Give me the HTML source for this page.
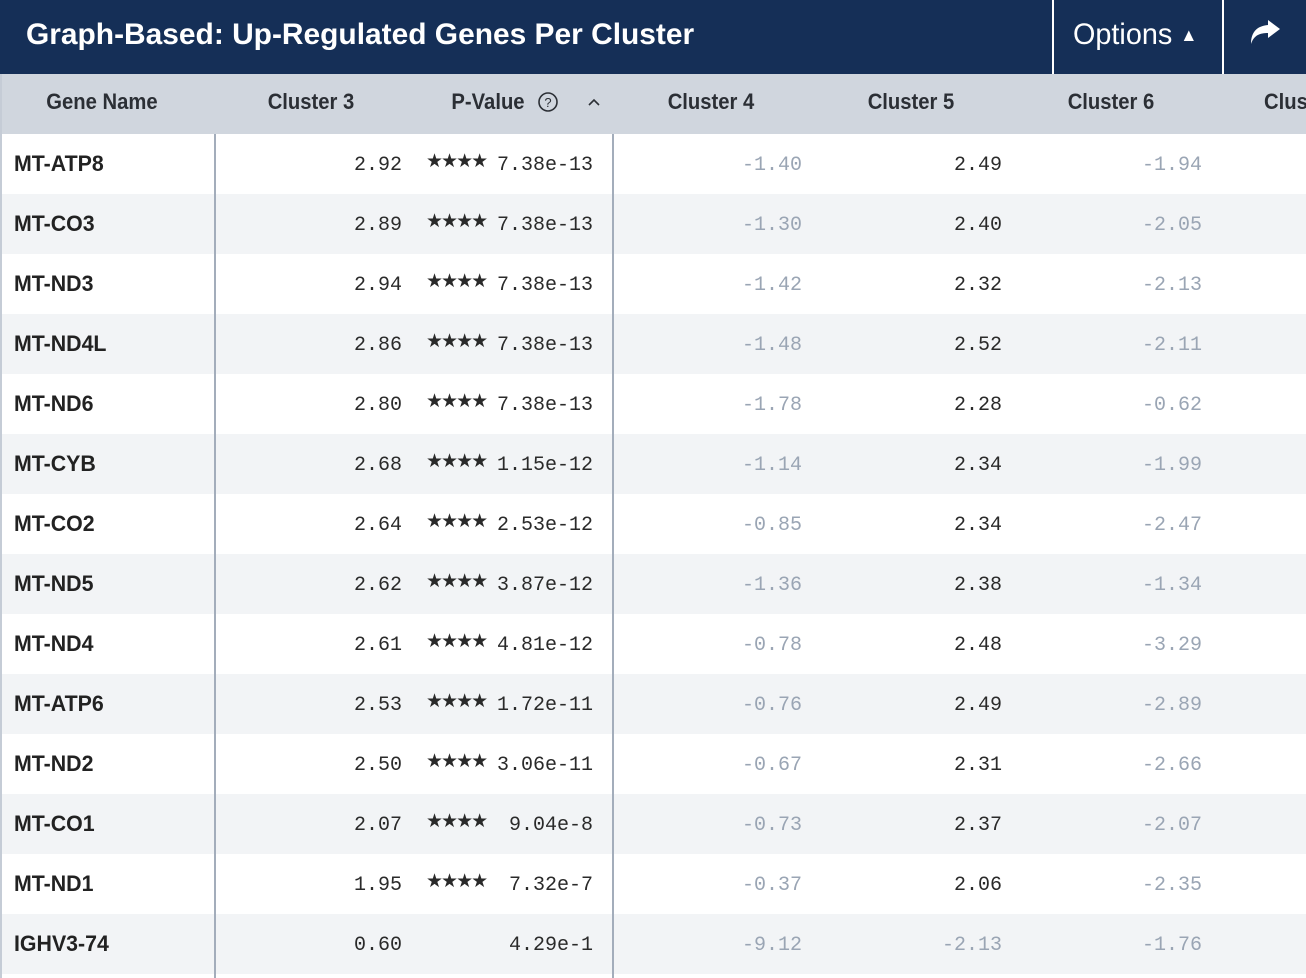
<!DOCTYPE html>
<html><head><meta charset="utf-8"><style>
*{margin:0;padding:0;box-sizing:border-box}
body{width:1306px;height:978px;background:#fff;position:relative;overflow:hidden;font-family:"Liberation Sans",sans-serif}
.top{position:absolute;left:0;top:0;width:1306px;height:74px;background:#152f57}
.title{position:absolute;left:26px;top:18px;color:#fff;font-weight:bold;font-size:30px;transform:scaleX(0.997);transform-origin:left}
.sep{position:absolute;top:0;width:2px;height:74px;background:#fff}
.opt{position:absolute;left:1073px;top:18px;color:#fff;font-size:30px;transform:scaleX(0.96);transform-origin:left}
.hdr{position:absolute;left:0;top:74px;width:1306px;height:60px;background:#d0d6de}
.h{position:absolute;top:89px;font-weight:bold;font-size:22px;color:#2b2f35;transform:translateX(-50%) scaleX(0.92);white-space:nowrap}
.row{position:absolute;left:0;width:1306px;height:60px}
.g{position:absolute;left:14px;top:17px;font-weight:bold;font-size:22px;color:#222;transform:scaleX(0.97);transform-origin:left}
.n{position:absolute;top:20px;font-family:"Liberation Mono",monospace;font-size:20px;color:#2a2a2a;text-align:right}
.m{color:#9aa5b4}
.s{position:absolute;left:426px;top:16px;font-size:19px;color:#2a2a2a;letter-spacing:-2px;font-family:"DejaVu Sans",sans-serif}
.vl{position:absolute;top:134px;width:2px;height:844px;background:#a3adbb}
</style></head><body>
<div class="top"></div>
<div class="title">Graph-Based: Up-Regulated Genes Per Cluster</div>
<div class="sep" style="left:1052px"></div>
<div class="sep" style="left:1222px"></div>
<div class="opt">Options <span style="font-size:18px;position:relative;top:-3px">▲</span></div>
<svg style="position:absolute;left:1248px;top:18px" width="34" height="30" viewBox="0 0 34 30"><path d="M20 2 L32 11 L20 20 L20 15 C12 15 6 17 3 26 C3 14 9 8 20 7 Z" fill="#fff"/></svg>
<div class="hdr"></div>
<div class="h" style="left:102px">Gene Name</div>
<div class="h" style="left:311px">Cluster 3</div>
<div class="h" style="left:488px">P-Value</div>
<svg style="position:absolute;left:537px;top:91px" width="22" height="22" viewBox="0 0 22 22"><circle cx="11" cy="11" r="9" fill="none" stroke="#2b2f35" stroke-width="1.6"/><text x="11" y="16" text-anchor="middle" font-family="Liberation Sans" font-size="13" fill="#2b2f35">?</text></svg>
<svg style="position:absolute;left:587px;top:97px" width="14" height="10" viewBox="0 0 14 10"><path d="M2 8 L7 3 L12 8" fill="none" stroke="#2b2f35" stroke-width="1.6"/></svg>
<div class="h" style="left:711px">Cluster 4</div>
<div class="h" style="left:911px">Cluster 5</div>
<div class="h" style="left:1111px">Cluster 6</div>
<div class="h" style="left:1264px;transform:scaleX(0.92);transform-origin:left">Clus</div>
<div id="rows"></div>
<div class="vl" style="left:214px"></div>
<div class="vl" style="left:612px"></div>
<div style="position:absolute;left:0;top:74px;width:2px;height:904px;background:#c5ccd6"></div>
<script>
var d=[["MT-ATP8","2.92","7.38e-13","-1.40","2.49","-1.94"],["MT-CO3","2.89","7.38e-13","-1.30","2.40","-2.05"],["MT-ND3","2.94","7.38e-13","-1.42","2.32","-2.13"],["MT-ND4L","2.86","7.38e-13","-1.48","2.52","-2.11"],["MT-ND6","2.80","7.38e-13","-1.78","2.28","-0.62"],["MT-CYB","2.68","1.15e-12","-1.14","2.34","-1.99"],["MT-CO2","2.64","2.53e-12","-0.85","2.34","-2.47"],["MT-ND5","2.62","3.87e-12","-1.36","2.38","-1.34"],["MT-ND4","2.61","4.81e-12","-0.78","2.48","-3.29"],["MT-ATP6","2.53","1.72e-11","-0.76","2.49","-2.89"],["MT-ND2","2.50","3.06e-11","-0.67","2.31","-2.66"],["MT-CO1","2.07","9.04e-8","-0.73","2.37","-2.07"],["MT-ND1","1.95","7.32e-7","-0.37","2.06","-2.35"],["IGHV3-74","0.60","4.29e-1","-9.12","-2.13","-1.76"]];
var h="";
function n(v,r){return '<div class="n'+(v[0]=="-"?" m":"")+'" style="right:'+(1306-r)+'px">'+v+'</div>';}
d.forEach(function(r,i){
h+='<div class="row" style="top:'+(134+60*i)+'px;background:'+(i%2?'#f2f4f6':'#fff')+'"><div class="g">'+r[0]+'</div>'+n(r[1],402)+(i<13?'<div class="s">★★★★</div>':'')+n(r[2],593)+n(r[3],802)+n(r[4],1002)+n(r[5],1202)+'</div>';
});
document.getElementById("rows").innerHTML=h;
</script>
</body></html>
